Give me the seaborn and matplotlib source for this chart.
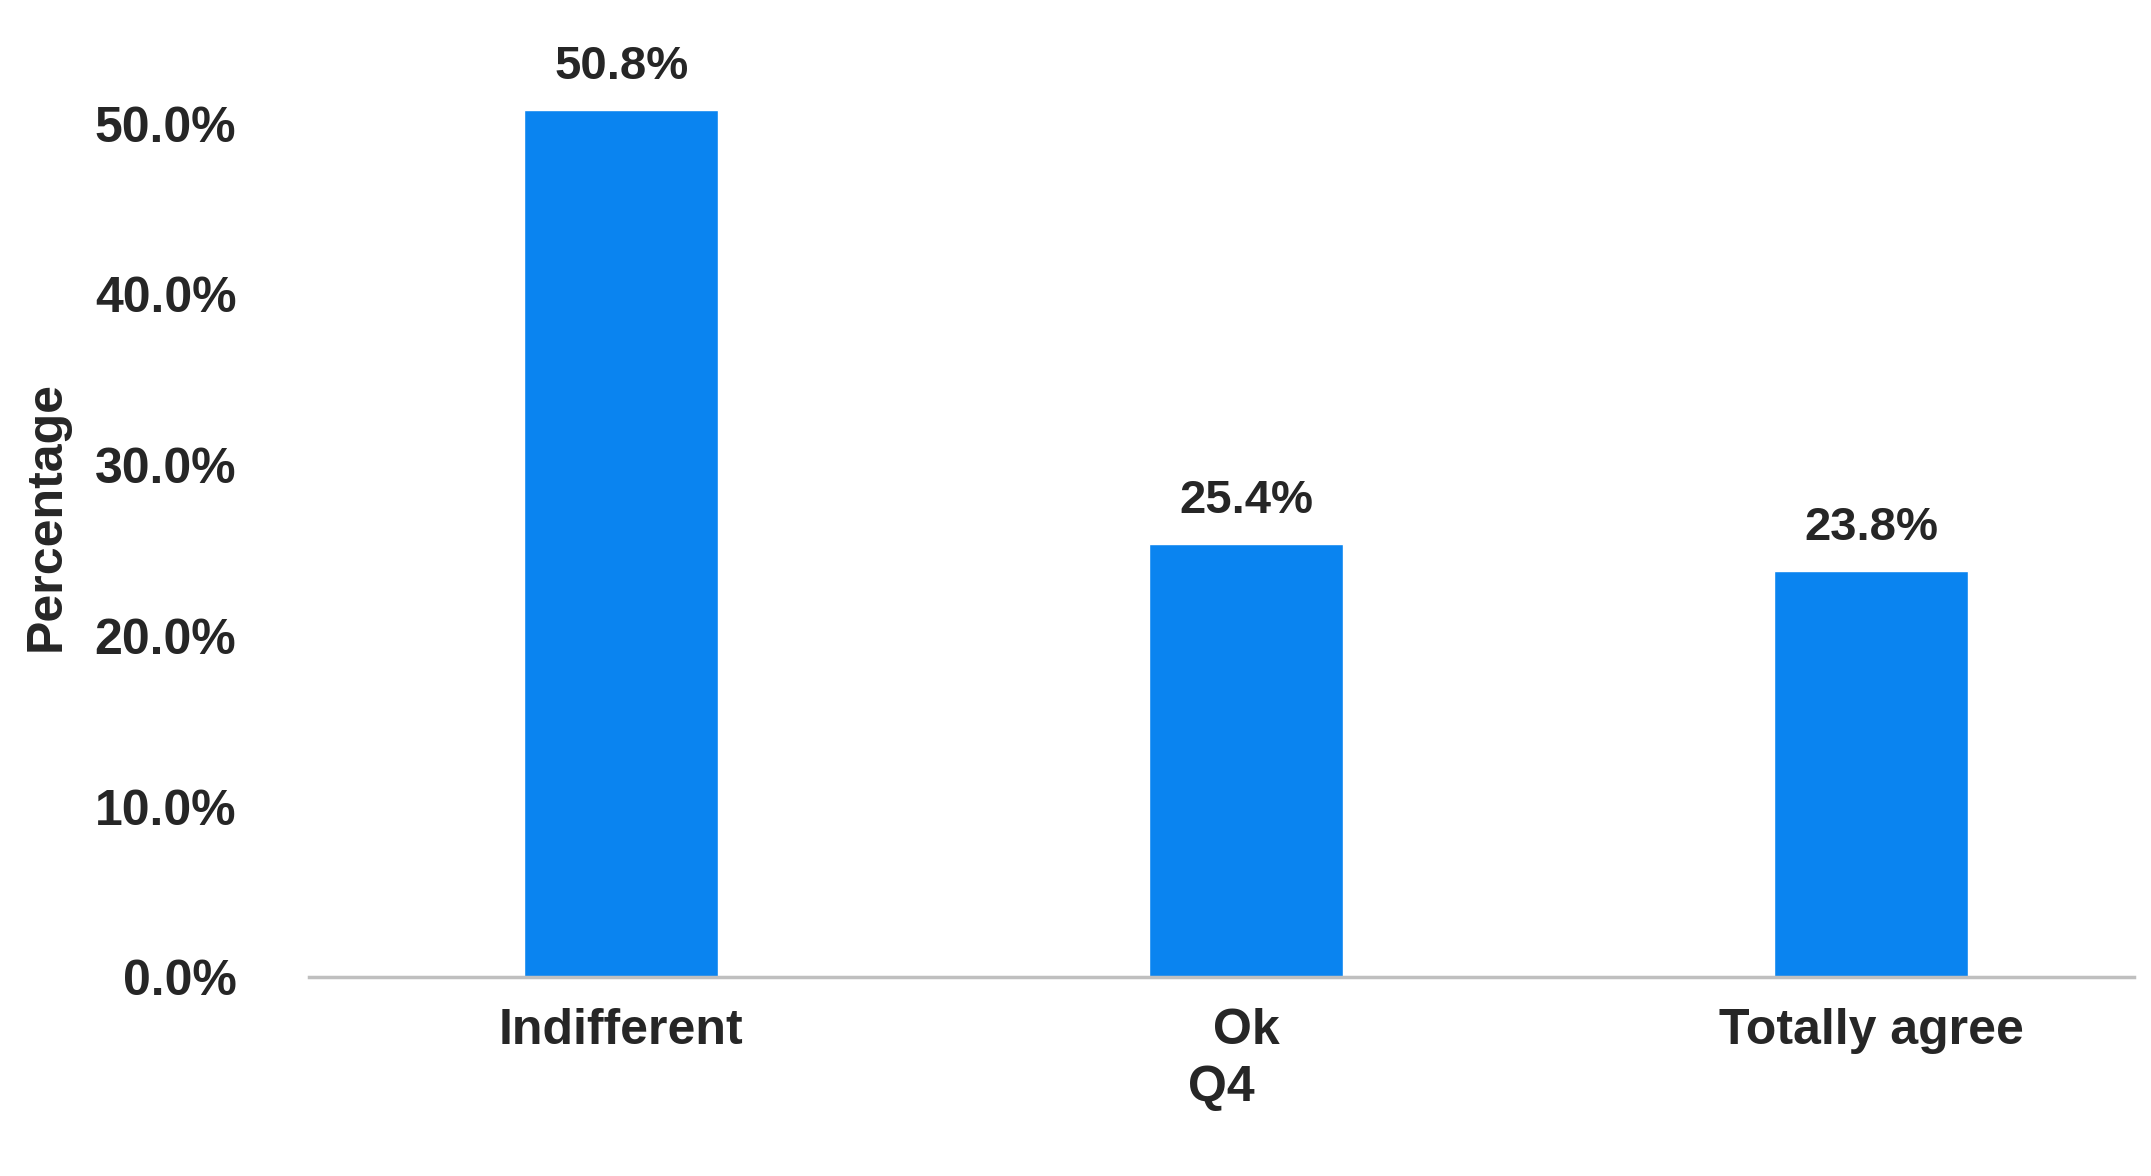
import matplotlib
matplotlib.use("Agg")
import matplotlib.pyplot as plt
import seaborn as sns
from matplotlib.ticker import PercentFormatter

# values
categories = ["Indifferent", "Ok", "Totally agree"]
percentages = [50.8, 25.4, 23.8]
y_ticks = [0, 10, 20, 30, 40, 50]

sns.set_style("white")
plt.rcParams['font.family'] = ['Liberation Sans', 'DejaVu Sans']
plt.rcParams['font.weight'] = 'bold'

fig = plt.figure(figsize=(21.51, 11.76), dpi=100)
ax = fig.add_axes([0.1435, 0.169, 0.8485, 0.784])

sns.barplot(x=categories, y=percentages, color='#0A84F0', saturation=1, width=0.31, ax=ax)

for i, v in enumerate(percentages):
    ax.text(i, v + 1.2, f"{v:.1f}%", ha='center', va='bottom', fontsize=34, fontweight='bold')

ax.set_ylim(0, 54)
ax.set_xlim(-0.5, 2.42)
ax.set_yticks(y_ticks)
ax.yaxis.set_major_formatter(PercentFormatter(decimals=1))
ax.tick_params(axis='both', labelsize=36, length=0)
ax.tick_params(axis='x', pad=22)
ax.tick_params(axis='y', pad=52)
for lbl in ax.get_xticklabels() + ax.get_yticklabels():
    lbl.set_fontweight('bold')

ax.set_xlabel("Q4", fontsize=36, fontweight='bold', labelpad=8)
ax.set_ylabel("Percentage", fontsize=36, fontweight='bold', labelpad=18)

for s in ['top', 'right', 'left']:
    ax.spines[s].set_visible(False)
ax.spines['bottom'].set_color('#BFBFBF')
ax.spines['bottom'].set_linewidth(2.5)

fig.savefig("out.png", dpi=100)
